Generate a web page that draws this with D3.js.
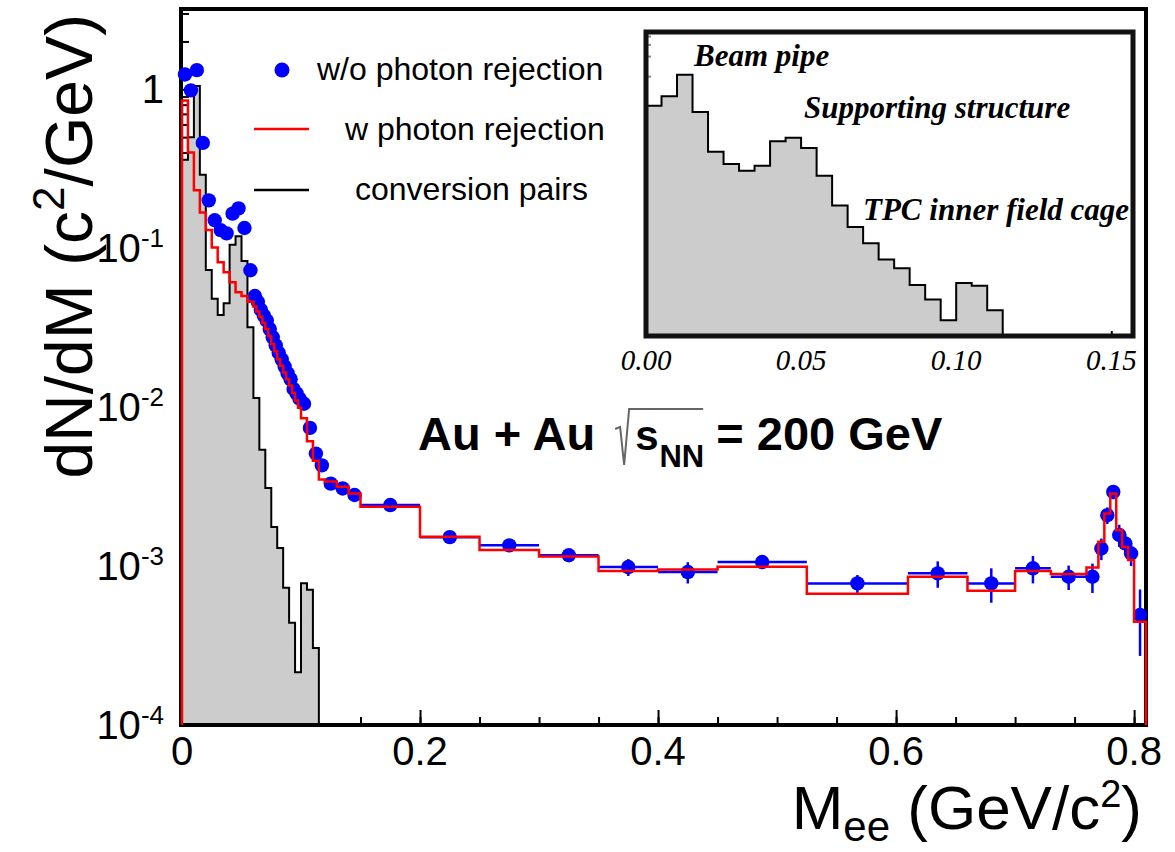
<!DOCTYPE html>
<html>
<head>
<meta charset="utf-8">
<script src="https://cdn.jsdelivr.net/npm/d3@7"></script>
<style>
  body { margin: 0; background: #fff; }
  svg text { font-family: "Liberation Sans", Arial, sans-serif; fill: #000; }
  .serif { font-family: "Liberation Serif", "Times New Roman", serif; }
</style>
</head>
<body>
<svg id="chart" width="1175" height="852"></svg>
<script>
// ---------------- data ----------------
// Dielectron invariant-mass bins (GeV/c^2), variable width
const massEdges = [0, 0.005, 0.01, 0.015, 0.02, 0.025, 0.03, 0.035, 0.04, 0.045, 0.05,
  0.055, 0.06, 0.0625, 0.065, 0.0675, 0.07, 0.0725, 0.075, 0.0775, 0.08, 0.0825, 0.085,
  0.0875, 0.09, 0.0925, 0.095, 0.0975, 0.1, 0.105, 0.11, 0.115, 0.12,
  0.13, 0.14, 0.15, 0.2, 0.25, 0.3, 0.35, 0.4, 0.45, 0.525, 0.61, 0.66, 0.7, 0.73, 0.76,
  0.77, 0.775, 0.78, 0.785, 0.79, 0.795, 0.8, 0.81];

// dN/dM without photon rejection (points)
const withoutRejection = [1.24, 0.985, 1.32, 0.46, 0.20, 0.15, 0.13, 0.124, 0.165, 0.178,
  0.134, 0.0727,
  0.050, 0.046, 0.041, 0.0377, 0.035, 0.031, 0.0275, 0.0245, 0.022, 0.020, 0.018, 0.0163,
  0.015, 0.013, 0.0122, 0.0113,
  0.0105, 0.0074, 0.0051, 0.0043,
  0.0033, 0.00308, 0.0028,
  0.00242, 0.00152, 0.00135, 0.00117, 0.000986, 0.000917,
  0.00106, 0.000778, 0.0009, 0.000778, 0.000968, 0.000857, 0.000857, 0.00129, 0.00209,
  0.00293, 0.00157, 0.00139, 0.0012, 0.000492];

// statistical errors of the points
const withoutErrors = [0.06, 0.05, 0.06, 0.03, 0.012, 0.01, 0.008, 0.008, 0.01, 0.01,
  0.008, 0.004,
  0.003, 0.0028, 0.0025, 0.0023, 0.002, 0.0018, 0.0016, 0.0015, 0.0013, 0.0012, 0.0011,
  0.001, 0.0009, 0.0008, 0.0008, 0.0007,
  0.0007, 0.0005, 0.0004, 0.0003,
  0.00022, 0.0002, 0.0002,
  0.0001, 0.00009, 0.0001, 0.0001, 0.00012, 0.00014,
  0.00008, 0.0001, 0.00017, 0.00019, 0.00019, 0.00015, 0.00018, 0.0002, 0.00025,
  0.0003, 0.00025, 0.0002, 0.0002, 0.00022];

// dN/dM with photon rejection (histogram)
const withRejection = [0.85, 0.40, 0.232, 0.168, 0.130, 0.101, 0.0816, 0.0706, 0.061, 0.0528,
  0.050, 0.046,
  0.043, 0.040, 0.037, 0.034, 0.031, 0.028, 0.025, 0.0225, 0.020, 0.0182, 0.0165, 0.015,
  0.0137, 0.0123, 0.011, 0.0099,
  0.0085, 0.0061, 0.0046, 0.0035,
  0.0034, 0.00315, 0.00286,
  0.00236, 0.00153, 0.00126, 0.00115, 0.00093, 0.00095,
  0.00099, 0.00067, 0.000857, 0.0007, 0.00093, 0.00089, 0.00098, 0.00142, 0.00214,
  0.00286, 0.00168, 0.00132, 0.00109, 0.000447];

// Photon conversion pairs (filled histogram, also shown in the inset)
const conversionEdges = [0, 0.005, 0.01, 0.015, 0.02, 0.025, 0.03, 0.035, 0.04, 0.045, 0.05,
  0.055, 0.06, 0.065, 0.07, 0.075, 0.08, 0.085, 0.09, 0.095, 0.1, 0.105, 0.11, 0.115];
const conversionPairs = [0.36, 0.50, 1.05, 0.29, 0.073, 0.048, 0.038, 0.045, 0.105, 0.119,
  0.083, 0.0318, 0.0114, 0.0054, 0.0031, 0.00176, 0.0013, 0.00073, 0.00044, 0.000215,
  0.00078, 0.00071, 0.000305];

// axis ticks and labels
const xTickValues = [0, 0.2, 0.4, 0.6, 0.8];
const xTickLabels = ["0", "0.2", "0.4", "0.6", "0.8"];
const yTickValues = [1, 0.1, 0.01, 0.001, 0.0001];
const yTickBase = ["1", "10", "10", "10", "10"];
const yTickExp = ["", "-1", "-2", "-3", "-4"];
const insetTickValues = [0, 0.05, 0.1, 0.15];
const insetTickLabels = ["0.00", "0.05", "0.10", "0.15"];

// ---------------- layout ----------------
const svg = d3.select("#chart");
const frame = { left: 181, right: 1146, top: 9, bottom: 725 };
const yFloor = 1e-4;

const x = d3.scaleLinear().domain([0, 0.81]).range([182, 1146]);
const y = d3.scaleLog().domain([yFloor, 3.2]).range([frame.bottom, frame.top]);

function stepPath(edges, vals, xs, ys, floor) {
  const p = d3.path();
  p.moveTo(xs(edges[0]), ys(floor));
  vals.forEach((v, i) => {
    p.lineTo(xs(edges[i]), ys(v));
    p.lineTo(xs(edges[i + 1]), ys(v));
  });
  p.lineTo(xs(edges[edges.length - 1]), ys(floor));
  return p.toString();
}

// ---------------- axes (ticks drawn first, histogram fill covers them) ----------------
function styleTicks(g) {
  g.select(".domain").remove();
  g.selectAll(".tick line").attr("stroke", "#000").attr("stroke-width", 2);
}
svg.append("g").attr("transform", `translate(0,${frame.bottom})`)
  .call(d3.axisBottom(x).tickValues(x.ticks(16)).tickSize(-8).tickFormat(""))
  .call(styleTicks);
svg.append("g").attr("transform", `translate(0,${frame.bottom})`)
  .call(d3.axisBottom(x).tickValues(xTickValues).tickSize(-15).tickFormat(""))
  .call(styleTicks);
svg.append("g").attr("transform", `translate(${frame.left},0)`)
  .call(d3.axisLeft(y).tickValues(y.ticks().filter(v => yTickValues.indexOf(v) < 0))
    .tickSize(-8).tickFormat(""))
  .call(styleTicks);
svg.append("g").attr("transform", `translate(${frame.left},0)`)
  .call(d3.axisLeft(y).tickValues(yTickValues).tickSize(-15).tickFormat(""))
  .call(styleTicks);

// x tick labels
svg.append("g").selectAll("text").data(xTickValues).join("text")
  .attr("x", d => x(d)).attr("y", 765)
  .attr("text-anchor", "middle").attr("font-size", 40)
  .text((d, i) => xTickLabels[i]);

// y tick labels (10 with superscript exponent)
const yl = svg.append("g").selectAll("text").data(yTickValues).join("text")
  .attr("x", 164).attr("y", d => y(d) + 14)
  .attr("text-anchor", "end").attr("font-size", 40);
yl.append("tspan").text((d, i) => yTickBase[i]);
yl.append("tspan").attr("dy", -15).attr("font-size", 26).text((d, i) => yTickExp[i]);

// ---------------- conversion pairs ----------------
svg.append("path")
  .attr("d", stepPath(conversionEdges, conversionPairs, x, y, yFloor))
  .attr("fill", "#cccccc").attr("stroke", "#000").attr("stroke-width", 2);

// frame
svg.append("rect")
  .attr("x", frame.left).attr("y", frame.top)
  .attr("width", frame.right - frame.left).attr("height", frame.bottom - frame.top)
  .attr("fill", "none").attr("stroke", "#000").attr("stroke-width", 4);

// ---------------- w/o photon rejection: points with error bars ----------------
const bins = withoutRejection.map((v, i) => ({
  lo: massEdges[i], hi: massEdges[i + 1], c: (massEdges[i] + massEdges[i + 1]) / 2,
  v: v, e: withoutErrors[i]
}));
const pts = svg.append("g");
pts.selectAll("line.xerr").data(bins).join("line").attr("class", "xerr")
  .attr("x1", d => x(d.lo)).attr("x2", d => x(d.hi))
  .attr("y1", d => y(d.v)).attr("y2", d => y(d.v))
  .attr("stroke", "#0000ff").attr("stroke-width", 2.5);
pts.selectAll("line.yerr").data(bins).join("line").attr("class", "yerr")
  .attr("x1", d => x(d.c)).attr("x2", d => x(d.c))
  .attr("y1", d => y(d.v - d.e)).attr("y2", d => y(d.v + d.e))
  .attr("stroke", "#0000ff").attr("stroke-width", 2.5);
pts.selectAll("circle").data(bins).join("circle")
  .attr("cx", d => x(d.c)).attr("cy", d => y(d.v)).attr("r", 7.2)
  .attr("fill", "#0000ff");

// ---------------- w photon rejection: red histogram ----------------
svg.append("path")
  .attr("d", stepPath(massEdges, withRejection, x, y, yFloor))
  .attr("fill", "none").attr("stroke", "#ff0000").attr("stroke-width", 2.5);

// ---------------- legend ----------------
const legend = svg.append("g");
legend.append("circle").attr("cx", 282).attr("cy", 70).attr("r", 7.5).attr("fill", "#0000ff");
legend.append("line").attr("x1", 254).attr("x2", 309).attr("y1", 129).attr("y2", 129)
  .attr("stroke", "#ff0000").attr("stroke-width", 2.5);
legend.append("line").attr("x1", 254).attr("x2", 309).attr("y1", 190).attr("y2", 190)
  .attr("stroke", "#000").attr("stroke-width", 2.5);
legend.append("text").attr("x", 317).attr("y", 80).attr("font-size", 32).text("w/o photon rejection");
legend.append("text").attr("x", 345).attr("y", 140).attr("font-size", 32).text("w photon rejection");
legend.append("text").attr("x", 355).attr("y", 200).attr("font-size", 32).text("conversion pairs");

// ---------------- collision system label ----------------
const sysY = 450;
const t1 = svg.append("text").attr("x", 418).attr("y", sysY)
  .attr("font-size", 47).attr("font-weight", "bold").text("Au + Au");
const cx = 418 + t1.node().getComputedTextLength() + 20;
const rootPath = d3.path();
rootPath.moveTo(cx, sysY - 21);
rootPath.lineTo(cx + 5, sysY - 23);
rootPath.lineTo(cx + 9, sysY + 15);
rootPath.lineTo(cx + 14, sysY - 41);
rootPath.lineTo(cx + 88, sysY - 41);
svg.append("path").attr("d", rootPath.toString()).attr("fill", "none")
  .attr("stroke", "#666").attr("stroke-width", 2);
const ts = svg.append("text").attr("x", cx + 20).attr("y", sysY)
  .attr("font-size", 42).attr("font-weight", "bold").text("s");
const sEnd = cx + 20 + ts.node().getComputedTextLength();
const tn = svg.append("text").attr("x", sEnd + 1).attr("y", sysY + 17)
  .attr("font-size", 31).attr("font-weight", "bold").text("NN");
const nEnd = sEnd + 1 + tn.node().getComputedTextLength();
svg.append("text").attr("x", nEnd + 12).attr("y", sysY)
  .attr("font-size", 47).attr("font-weight", "bold").text("= 200 GeV");

// ---------------- axis titles ----------------
const xt = svg.append("text").attr("x", 1142).attr("y", 829)
  .attr("text-anchor", "end").attr("font-size", 62);
xt.append("tspan").text("M");
xt.append("tspan").attr("dy", 12).attr("font-size", 42).text("ee");
xt.append("tspan").attr("dy", -12).text(" (GeV/c");
xt.append("tspan").attr("dy", -22).attr("font-size", 38).text("2");
xt.append("tspan").attr("dy", 22).text(")");

const yt = svg.append("text").attr("transform", "translate(92,14) rotate(-90)")
  .attr("text-anchor", "end").attr("font-size", 66);
yt.append("tspan").text("dN/dM (c");
yt.append("tspan").attr("dy", -28).attr("font-size", 44).text("2");
yt.append("tspan").attr("dy", 28).text("/GeV)");

// ---------------- inset: conversion pairs at low mass ----------------
const inset = { left: 646, right: 1133, top: 32, bottom: 336 };
const ix = d3.scaleLinear().domain([0, 0.157]).range([inset.left, inset.right]);
const iy = d3.scaleLog().domain([1.25e-4, 4.6]).range([inset.bottom, inset.top]);
const ig = svg.append("g");
ig.append("rect").attr("x", inset.left).attr("y", inset.top)
  .attr("width", inset.right - inset.left).attr("height", inset.bottom - inset.top)
  .attr("fill", "#fff");
ig.append("g").attr("transform", `translate(${inset.left},0)`)
  .call(d3.axisLeft(iy).tickValues([1, 2, 3, 4]).tickSize(-5).tickFormat(""))
  .call(g => { g.select(".domain").remove(); g.selectAll(".tick line").attr("stroke", "#888").attr("stroke-width", 2); });
ig.append("g").attr("transform", `translate(0,${inset.bottom})`)
  .call(d3.axisBottom(ix).tickValues(insetTickValues).tickSize(-5).tickFormat(""))
  .call(g => { g.select(".domain").remove(); g.selectAll(".tick line").attr("stroke", "#000").attr("stroke-width", 2); });
ig.append("path")
  .attr("d", stepPath(conversionEdges, conversionPairs, ix, iy, 1.25e-4))
  .attr("fill", "#cccccc").attr("stroke", "#000").attr("stroke-width", 2);
ig.append("rect").attr("x", inset.left).attr("y", inset.top)
  .attr("width", inset.right - inset.left).attr("height", inset.bottom - inset.top)
  .attr("fill", "none").attr("stroke", "#111").attr("stroke-width", 5);
ig.append("g").selectAll("text").data(insetTickValues).join("text")
  .attr("class", "serif").attr("font-style", "italic").attr("font-size", 29)
  .attr("x", d => ix(d)).attr("y", 370).attr("text-anchor", "middle")
  .text((d, i) => insetTickLabels[i]);
const notes = [
  { t: "Beam pipe", x: 694, y: 66 },
  { t: "Supporting structure", x: 804, y: 118 },
  { t: "TPC inner field cage", x: 863, y: 220 }
];
ig.append("g").selectAll("text").data(notes).join("text")
  .attr("class", "serif").attr("font-style", "italic").attr("font-weight", "bold")
  .attr("font-size", 31).attr("x", d => d.x).attr("y", d => d.y).text(d => d.t);
</script>
</body>
</html>
